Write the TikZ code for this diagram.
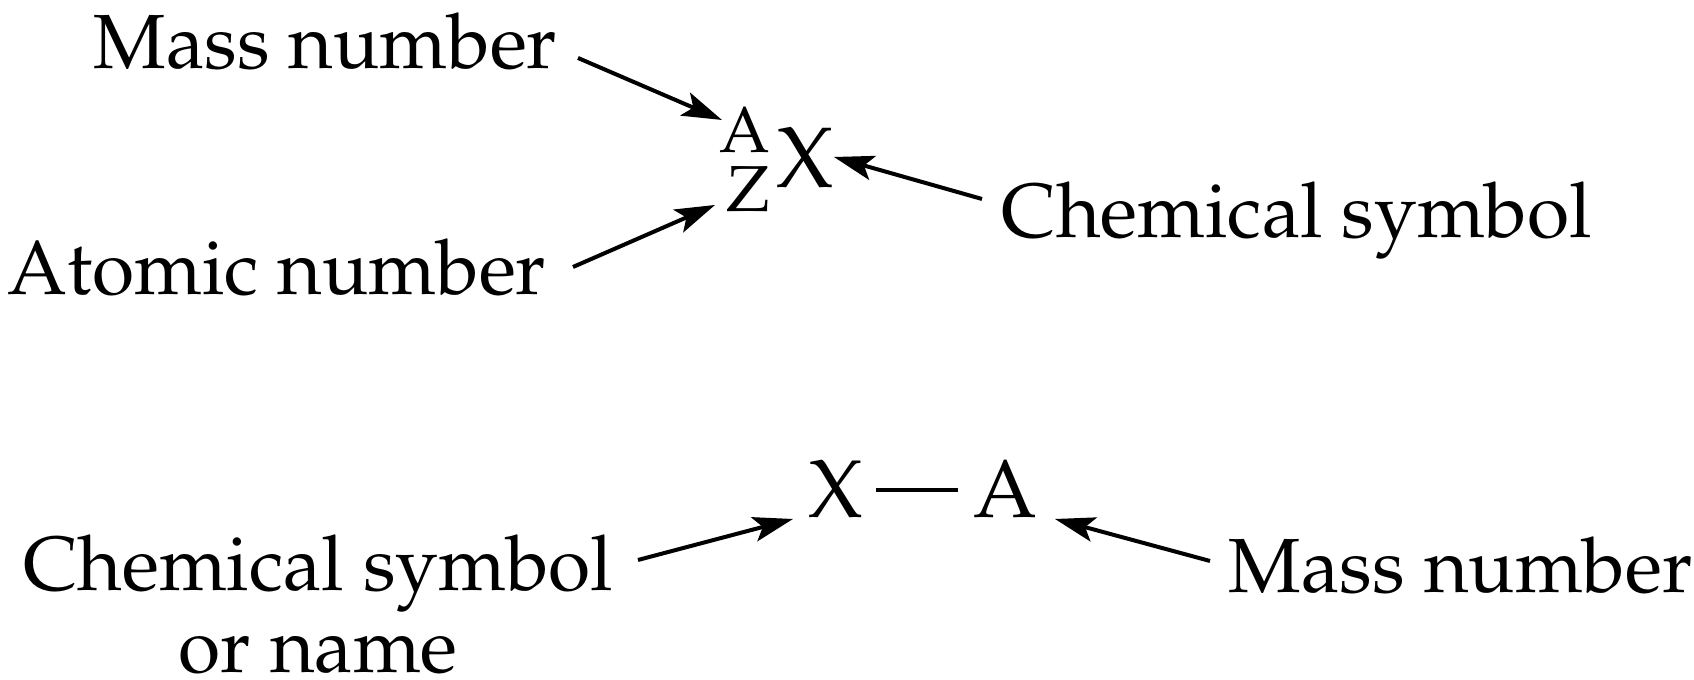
\documentclass[tikz,border=0pt]{standalone}
\usepackage[T1]{fontenc}
\usepackage{mathpazo}
\usetikzlibrary{arrows.meta,positioning}

\begin{document}
\begin{tikzpicture}[
  x=0.25pt, y=-0.25pt,
  lbl/.style={inner sep=0pt, font=\fontsize{19.2}{20.5}\selectfont},
  sym/.style={inner sep=0pt, font=\fontsize{#1}{#1}\selectfont},
  arr/.style={-{Stealth[length=10pt, width=6.2pt, inset=2.2pt]}, line width=1pt},
  bond/.style={line width=1pt}]
\useasboundingbox (0,0) rectangle (1694,680);
% nuclide notation
\node[sym=21.5, anchor=base west] (symX) at (776,188) {X};
\node[sym=16.25, anchor=base east] (supA) at ([xshift=-1.25pt, yshift=8.75pt]symX.base west) {A};
\node[sym=16.25, anchor=base east] (supZ) at ([xshift=-1.25pt, yshift=-6pt]symX.base west) {Z};
% hyphen notation
\node[sym=20.5, anchor=base west] (symX2) at (808,518) {X};
\node[sym=20.5, anchor=base east] (symA2) at (1038,518) {A};
% labels
\node[lbl, anchor=base east] (lblMass) at (558,69) {Mass number};
\node[lbl, anchor=base east] (lblAtomic) at (547,295) {Atomic number};
\node[lbl, anchor=base west] (lblChem) at (1001,238) {Chemical symbol};
\node[lbl, anchor=base east, align=center] (lblChemB) at (614,673) {Chemical symbol\\or name};
\node[lbl, anchor=base west] (lblMassB) at (1228,593) {Mass number};
% arrows
\draw[arr] ([xshift=5pt, yshift=2.75pt]lblMass.base east) -- ([xshift=-12.25pt, yshift=8.25pt]supA.base east);
\draw[arr] ([xshift=6.5pt, yshift=7pt]lblAtomic.base east) -- ([xshift=-14pt, yshift=1.75pt]supZ.base east);
\draw[arr] ([xshift=-4.75pt, yshift=9.75pt]lblChem.base west) -- ([xshift=-0.25pt, yshift=7.75pt]symX.base east);
\draw[arr] ([xshift=6pt, yshift=28.25pt]lblChemB.base east) -- ([xshift=-3.75pt, yshift=-0.25pt]symX2.base west);
\draw[arr] ([xshift=-4.5pt, yshift=8pt]lblMassB.base west) -- ([xshift=4.25pt, yshift=-0.25pt]symA2.base east);
\draw[bond, shorten <=3pt, shorten >=3.75pt] (symX2) -- (symA2);
\end{tikzpicture}
\end{document}
